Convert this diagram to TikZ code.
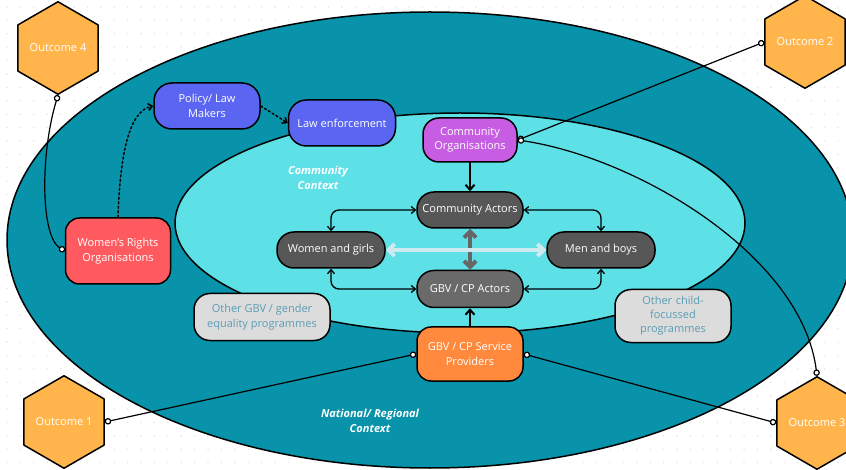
\documentclass[tikz,border=0pt]{standalone}
\usepackage{fontspec}
\setmainfont{Open Sans}
\usetikzlibrary{shapes.geometric, arrows.meta, positioning}

\definecolor{outerteal}{HTML}{0893AA}
\definecolor{innercyan}{HTML}{5DE0E6}
\definecolor{hexorange}{HTML}{FFB54C}
\definecolor{lawblue}{HTML}{5A66F2}
\definecolor{orgpurple}{HTML}{C65DE2}
\definecolor{actorgray}{HTML}{575757}
\definecolor{gbvgray}{HTML}{6A6A6A}
\definecolor{svcorange}{HTML}{FF8A3D}
\definecolor{wrored}{HTML}{FF5A5F}
\definecolor{progfill}{HTML}{DCDCDC}
\definecolor{progtext}{HTML}{5B9DB3}
\definecolor{midgray}{HTML}{666666}
\definecolor{palecyan}{HTML}{CDEBEE}
\definecolor{dotgray}{HTML}{E4E4E4}

\begin{document}
\begin{tikzpicture}[x=1pt, y=-1pt, line join=round, line cap=round,
    font=\fontsize{11}{14.5}\selectfont,
    box/.style={draw=black, line width=1.5pt, rounded corners=14pt, align=center, text=white, inner sep=2pt},
    pill/.style={box, rounded corners=17pt, minimum width=106pt, minimum height=36pt},
    prog/.style={box, fill=progfill, text=progtext, rounded corners=16pt},
    hexa/.style={regular polygon, regular polygon sides=6, shape border rotate=30, draw=black, line width=1.5pt, fill=hexorange, text=white, minimum size=74pt, inner sep=0pt},
    ctx/.style={text=white, align=center, font=\fontsize{11}{15}\selectfont\bfseries\itshape},
    link/.style={line width=1.2pt, {Circle[fill=white,length=6.5pt]}-{Circle[fill=white,length=6.5pt]}},
    flow/.style={line width=1.3pt, rounded corners=8pt, {Straight Barb[length=4pt,width=7pt]}-{Straight Barb[length=4pt,width=7pt]}},
    push/.style={line width=2pt, -{Straight Barb[length=5pt,width=9pt]}},
    dots/.style={line width=1.5pt, dash pattern=on 2pt off 2.5pt, -{Straight Barb[length=4pt,width=7pt]}}]

    \clip (0,0) rectangle (846,470);
    \fill[white] (0,0) rectangle (846,470);

    % dotted background
    \foreach \i in {0,...,63} {
        \foreach \j in {0,...,35} {
            \fill[dotgray] (7+13.4*\i, 7+13.4*\j) circle (0.8pt);
        }
    }

    % contexts
    \draw[fill=outerteal, line width=1.5pt] (430,240) ellipse (423 and 228); % national / regional
    \draw[fill=innercyan, line width=1.5pt] (460,223) ellipse (285 and 110); % community

    \node[ctx] (commctx) at (318,178) {Community\\Context};
    \node[ctx] (natctx) at (370,421) {National/ Regional\\Context};

    % outcomes
    \node[hexa] (out4) at (58,48) {Outcome 4};
    \node[hexa] (out2) at (805,42) {Outcome 2};
    \node[hexa] (out1) at (64,422) {Outcome 1};
    \node[hexa] (out3) at (817,423) {Outcome 3};

    % actors
    \node[box, fill=lawblue, rounded corners=18pt, minimum width=106pt, minimum height=46pt] (policy) at (207,106) {Policy/ Law\\Makers};
    \node[box, fill=lawblue, rounded corners=18pt, minimum width=107pt, minimum height=46pt] (law) at (342,123) {Law enforcement};
    \node[box, fill=orgpurple, rounded corners=16pt, minimum width=94pt, minimum height=44pt] (corg) at (470,140) {Community\\Organisations};
    \node[box, fill=wrored, minimum width=105pt, minimum height=66pt] (wro) at (118,251) {Women’s Rights\\Organisations};

    \node[pill, fill=actorgray] (cact) at (470,210) {Community Actors};
    \node[pill, fill=actorgray, minimum width=108pt] (women) at (331,250) {Women and girls};
    \node[pill, fill=actorgray, minimum width=108pt] (men) at (601,250) {Men and boys};
    \node[pill, fill=gbvgray, minimum height=37pt] (gact) at (470,289) {GBV / CP Actors};
    \node[box, fill=svcorange, minimum width=106pt, minimum height=54pt] (svc) at (470,354) {GBV / CP Service\\Providers};

    \node[prog, minimum width=136pt, minimum height=47pt] (othgbv) at (262,317) {Other GBV / gender\\equality programmes};
    \node[prog, minimum width=116pt, minimum height=53pt, text width=96pt, font=\fontsize{11}{14}\selectfont] (othchild) at (673,316) {Other child-\\focussed\\programmes};

    % links inside the community
    \draw[push] (corg) -- (cact);
    \draw[push] (svc) -- (gact);
    \draw[line width=4pt, draw=midgray, {Straight Barb[length=6pt,width=12pt]}-{Straight Barb[length=6pt,width=12pt]}] (cact) -- (gact);
    \draw[line width=4pt, draw=palecyan, {Straight Barb[length=6pt,width=12pt]}-{Straight Barb[length=6pt,width=12pt]}] (women) -- (men);

    \draw[flow] (women.north) |- (cact.west);
    \draw[flow] (women.south) |- (gact.west);
    \draw[flow] (men.north) |- (cact.east);
    \draw[flow] (men.south) |- (gact.east);

    % policy chain
    \draw[dots] (wro.north) .. controls +(2,-60) and +(-25,5) .. (policy.west);
    \draw[dots] (policy.east) -- (law.west);

    % outcomes links
    \draw[link] (out4.south) .. controls +(-18,60) and +(-24,-15) .. (wro.west);
    \draw[link] (out2.west) -- (corg.east);
    \draw[link] (corg.east) .. controls +(120,18) and +(-15,-120) .. (out3.north);
    \draw[link] (out3.west) -- (svc.east);
    \draw[link] (out1.east) -- (svc.west);

\end{tikzpicture}
\end{document}
